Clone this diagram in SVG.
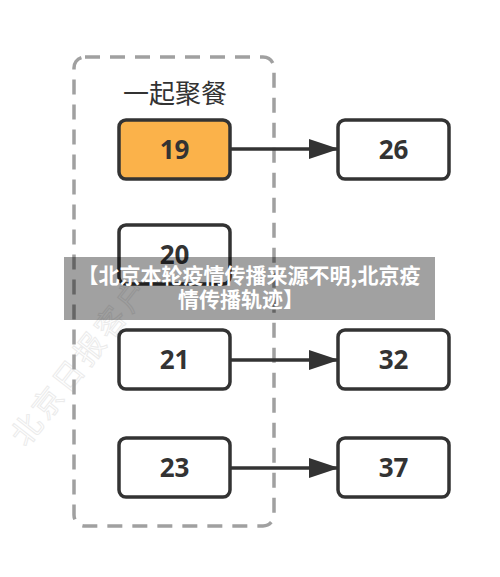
<svg xmlns="http://www.w3.org/2000/svg" width="500" height="577" viewBox="0 0 500 577">
<defs>
<style>
.node rect{fill:#fff;stroke:#333;stroke-width:3.5}
.node text{font-family:"Open Sans","Noto Sans",sans-serif;font-weight:bold;font-size:26px;fill:#333;text-anchor:middle}
.conn line{stroke:#333;stroke-width:3.5}
.banner text{font-family:"Noto Sans CJK SC","Noto Sans",sans-serif;font-weight:bold;font-size:21px;fill:#fff;text-anchor:middle}
</style>
<marker id="arr" markerWidth="30" markerHeight="22" viewBox="0 0 30 22" refX="29" refY="11" orient="auto" markerUnits="userSpaceOnUse">
<path d="M0,1 L30,11 L0,21 Z" fill="#333"/>
</marker>
</defs>
<rect width="500" height="577" fill="#fff"/>
<text transform="translate(26,448) rotate(-52)" font-family="Noto Sans CJK SC,sans-serif" font-size="30" letter-spacing="4" fill="none" stroke="#ebebeb" stroke-width="1">北京日报客户端</text>
<g id="group">
<rect x="74" y="57" width="200" height="469" rx="11" fill="none" stroke="#a0a0a0" stroke-width="3.5" stroke-dasharray="15 10"/>
<text x="175" y="103" font-family="Noto Sans CJK SC,sans-serif" font-size="26" fill="#333" text-anchor="middle">一起聚餐</text>
</g>
<g class="conn" id="connectors">
<line x1="230" y1="149" x2="338" y2="149" marker-end="url(#arr)"/>
<line x1="230" y1="360" x2="338" y2="360" marker-end="url(#arr)"/>
<line x1="230" y1="468" x2="338" y2="468" marker-end="url(#arr)"/>
</g>
<g class="node" id="n19"><rect x="119" y="120" width="111" height="59" rx="7" style="fill:#fbb24a"/><text x="174.5" y="159">19</text></g>
<g class="node" id="n20"><rect x="119" y="225" width="111" height="59" rx="7"/><text x="174.5" y="264">20</text></g>
<g class="node" id="n21"><rect x="119" y="330" width="111" height="59" rx="7"/><text x="174.5" y="369">21</text></g>
<g class="node" id="n23"><rect x="119" y="438" width="111" height="59" rx="7"/><text x="174.5" y="477">23</text></g>
<g class="node" id="n26"><rect x="338" y="120" width="111" height="59" rx="7"/><text x="393.5" y="159">26</text></g>
<g class="node" id="n32"><rect x="338" y="330" width="111" height="59" rx="7"/><text x="393.5" y="369">32</text></g>
<g class="node" id="n37"><rect x="338" y="438" width="111" height="59" rx="7"/><text x="393.5" y="477">37</text></g>
<g class="banner" id="banner">
<rect x="64" y="257" width="371" height="63" fill="#000" fill-opacity="0.37"/>
<text x="249" y="283">【北京本轮疫情传播来源不明,北京疫</text>
<text x="241" y="307">情传播轨迹】</text>
</g>
</svg>
